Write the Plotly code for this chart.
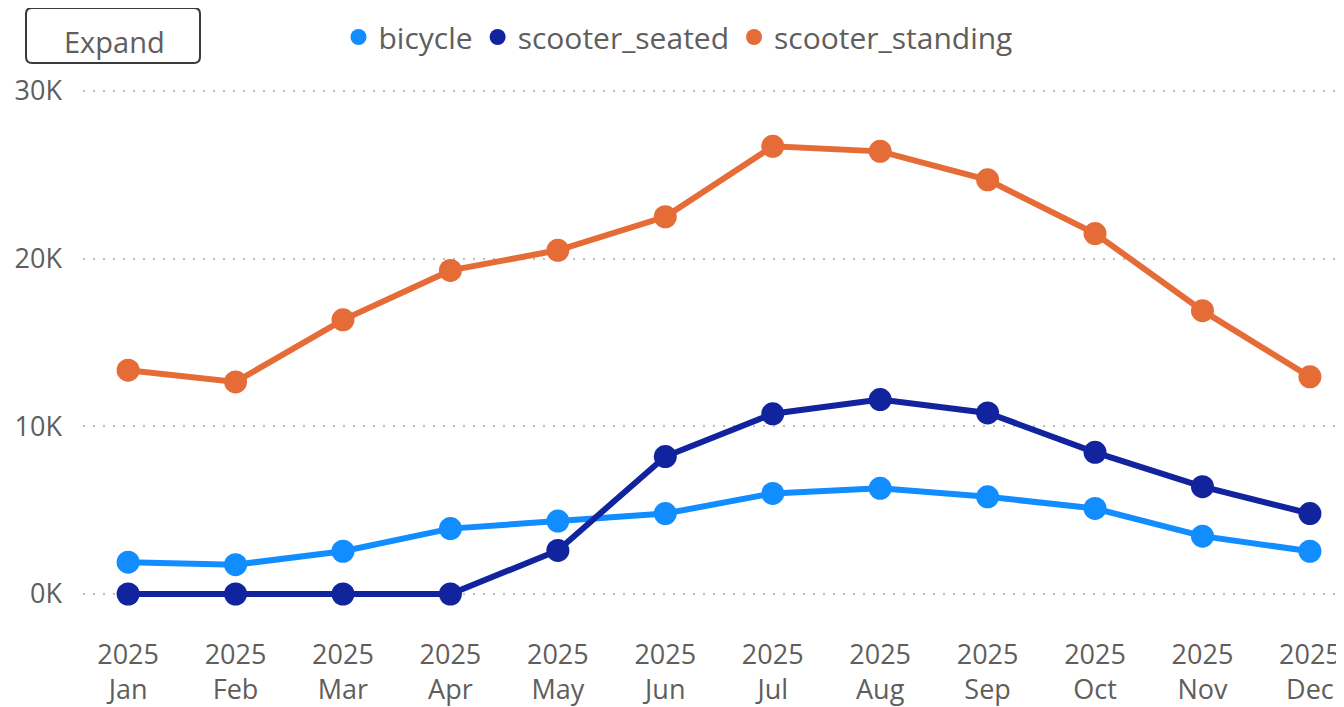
import plotly.graph_objects as go

months = ["Jan", "Feb", "Mar", "Apr", "May", "Jun", "Jul", "Aug", "Sep", "Oct", "Nov", "Dec"]
year = "2025"
bicycle = [1900, 1750, 2550, 3900, 4350, 4800, 6000, 6300, 5800, 5100, 3450, 2550]
scooter_seated = [0, 0, 0, 0, 2600, 8200, 10750, 11600, 10800, 8450, 6400, 4800]
scooter_standing = [13350, 12650, 16350, 19300, 20500, 22500, 26700, 26400, 24700, 21500, 16900, 12950]
ytick_vals = [0, 10000, 20000, 30000]
ytick_text = ["0K", "10K", "20K", "30K"]

series = [
    ("bicycle", bicycle, "#118DFF"),
    ("scooter_seated", scooter_seated, "#12239E"),
    ("scooter_standing", scooter_standing, "#E66C37"),
]

FONT = "Segoe UI, Open Sans, sans-serif"
TXT = "#605E5C"
OFF = 8  # page body margin
W, H = 1344 - OFF, 707 - OFF
# plot area in screen pixels
SX0, SX1, SY0, SY1 = 83, 1340, 85, 620
L, R, T, B = SX0 - OFF, W - (SX1 - OFF), SY0 - OFF, H - (SY1 - OFF)
PW, PH = W - L - R, H - T - B

PER_PX = 10000 / 167.7
Y_TOP = 30000 + (91 - SY0) * PER_PX
Y_BOT = 0 - (SY1 - 594) * PER_PX


def px(xs):
    return (xs - SX0) / PW


def py(ys):
    return (SY1 - ys) / PH


x = list(range(len(months)))
ticktext = [f"{year}<br>{m}" for m in months]

fig = go.Figure()
for name, vals, color in series:
    fig.add_trace(go.Scatter(
        x=x, y=vals, mode="lines+markers", name=name,
        line=dict(color=color, width=6),
        marker=dict(color=color, size=23),
        showlegend=False, legendgroup=name, hoverinfo="skip",
    ))
for name, vals, color in series:
    fig.add_trace(go.Scatter(
        x=[None], y=[None], mode="markers", name=name,
        marker=dict(color=color, size=23),
        showlegend=True, legendgroup=name,
    ))

fig.update_layout(
    width=W, height=H,
    paper_bgcolor="white", plot_bgcolor="white",
    margin=dict(l=L, r=R, t=T, b=B, autoexpand=False),
    font=dict(family=FONT, size=27, color=TXT),
    legend=dict(orientation="h", x=px(678), xanchor="center", y=py(37), yanchor="middle",
                font=dict(size=30, color=TXT), itemsizing="trace",
                itemwidth=30, tracegroupgap=0, bgcolor="rgba(0,0,0,0)"),
    xaxis=dict(range=[-0.42, 11.28], tickvals=x, ticktext=ticktext,
               showgrid=False, zeroline=False, showline=False, ticks="",
               automargin=False, ticklabelstandoff=16,
               tickfont=dict(size=27, color=TXT), fixedrange=True),
    yaxis=dict(range=[Y_BOT, Y_TOP], tickvals=ytick_vals, ticktext=ytick_text,
               showgrid=True, gridcolor="#BEBCBA", griddash="2px,8px", gridwidth=1.5,
               zeroline=False, showline=False, ticks="",
               automargin=False, ticklabelstandoff=20,
               tickfont=dict(size=27, color=TXT), fixedrange=True),
    showlegend=True,
)

# Expand button (rounded rectangle)
bx0, bx1, by0, by1, rr = 26, 200, 8, 63, 6
path = (
    f"M {px(bx0 + rr)} {py(by0)} L {px(bx1 - rr)} {py(by0)} "
    f"Q {px(bx1)} {py(by0)} {px(bx1)} {py(by0 + rr)} "
    f"L {px(bx1)} {py(by1 - rr)} Q {px(bx1)} {py(by1)} {px(bx1 - rr)} {py(by1)} "
    f"L {px(bx0 + rr)} {py(by1)} Q {px(bx0)} {py(by1)} {px(bx0)} {py(by1 - rr)} "
    f"L {px(bx0)} {py(by0 + rr)} Q {px(bx0)} {py(by0)} {px(bx0 + rr)} {py(by0)} Z"
)
fig.add_shape(type="path", xref="paper", yref="paper", path=path,
              line=dict(color="#3A3A3A", width=2), fillcolor="white", layer="above")
fig.add_annotation(text="Expand", xref="paper", yref="paper",
                   x=px(114), y=py(42), xanchor="center", yanchor="middle",
                   showarrow=False, font=dict(size=29, color=TXT, family=FONT))

fig.write_html("out.html")
